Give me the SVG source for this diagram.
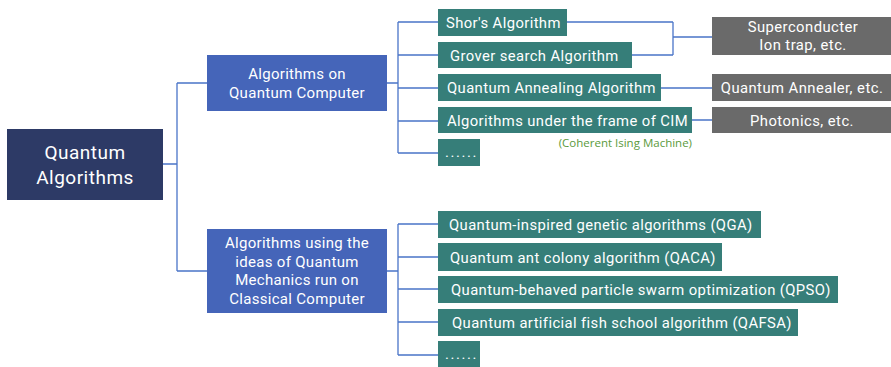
<svg xmlns="http://www.w3.org/2000/svg" width="891" height="367" viewBox="0 0 891 367">
  <style>
    .root { fill: #2d3a66; }
    .mid { fill: #4565b9; }
    .leaf { fill: #367e79; }
    .hw { fill: #6a6a6a; }
    text { font-family: Roboto, "Liberation Sans", sans-serif; fill: #ffffff; }
    .t-root { font-size: 19px; text-anchor: middle; letter-spacing: 0.5px; }
    .t-mid { font-size: 15px; text-anchor: middle; letter-spacing: 0.3px; }
    .t-leaf { font-size: 14.8px; letter-spacing: 0.4px; }
    .dots { font-size: 14.8px; letter-spacing: 1.6px; }
    .t-hw { font-size: 14.8px; text-anchor: middle; letter-spacing: 0.45px; }
    .note { font-family: "Open Sans", "Noto Sans", sans-serif; font-size: 11.5px; fill: #5a9a3c; text-anchor: end; }
    .wire { fill: none; stroke: #4a74c8; stroke-width: 1.3; }
  </style>

  <!-- connectors -->
  <g id="connectors" class="wire">
    <path d="M163 164 H177 M177 83 V271 M177 83 H207 M177 271 H207"/>
    <path d="M387 83 H398 M398 22 V153 M398 22 H438 M398 55 H438 M398 88 H438 M398 121 H438 M398 153 H438"/>
    <path d="M387 271 H398 M398 224 V355 M398 224 H438 M398 257 H438 M398 289 H438 M398 322 H438 M398 355 H438"/>
    <path d="M567 22 H673 M632 55 H673 M673 22 V55 M673 37 H712"/>
    <path d="M661 88 H712 M692 120 H712"/>
  </g>

  <!-- root -->
  <g id="root">
    <rect class="root" x="7" y="129" width="156" height="71"/>
    <text class="t-root" x="85" y="159">Quantum</text>
    <text class="t-root" x="85" y="184">Algorithms</text>
  </g>

  <!-- second level -->
  <g id="on-quantum">
    <rect class="mid" x="207" y="55" width="180" height="56"/>
    <text class="t-mid" x="297" y="79">Algorithms on</text>
    <text class="t-mid" x="297" y="98">Quantum Computer</text>
  </g>
  <g id="on-classical">
    <rect class="mid" x="207" y="229" width="180" height="84"/>
    <text class="t-mid" x="297" y="248">Algorithms using the</text>
    <text class="t-mid" x="297" y="267">ideas of Quantum</text>
    <text class="t-mid" x="297" y="285">Mechanics run on</text>
    <text class="t-mid" x="297" y="304">Classical Computer</text>
  </g>

  <!-- quantum computer algorithms -->
  <g id="shor">
    <rect class="leaf" x="438" y="9" width="129" height="27"/>
    <text class="t-leaf" x="446" y="28">Shor's Algorithm</text>
  </g>
  <g id="grover">
    <rect class="leaf" x="438" y="42" width="194" height="26"/>
    <text class="t-leaf" x="450" y="60.5">Grover search Algorithm</text>
  </g>
  <g id="annealing">
    <rect class="leaf" x="438" y="74" width="223" height="27"/>
    <text class="t-leaf" x="447" y="93">Quantum Annealing Algorithm</text>
  </g>
  <g id="cim">
    <rect class="leaf" x="438" y="107" width="254" height="26"/>
    <text class="t-leaf" x="447" y="125.5">Algorithms under the frame of CIM</text>
    <text class="note" x="692" y="147">(Coherent Ising Machine)</text>
  </g>
  <g id="more-quantum">
    <rect class="leaf" x="438" y="139" width="42" height="27"/>
    <text class="dots" x="445" y="157">......</text>
  </g>

  <!-- hardware -->
  <g id="superconducter">
    <rect class="hw" x="712" y="17" width="180" height="38"/>
    <text class="t-hw" x="803" y="32">Superconducter</text>
    <text class="t-hw" x="803" y="50">Ion trap, etc.</text>
  </g>
  <g id="annealer">
    <rect class="hw" x="712" y="74" width="180" height="27"/>
    <text class="t-hw" x="802" y="93">Quantum Annealer, etc.</text>
  </g>
  <g id="photonics">
    <rect class="hw" x="712" y="107" width="180" height="26"/>
    <text class="t-hw" x="802" y="125.5">Photonics, etc.</text>
  </g>

  <!-- quantum-inspired classical algorithms -->
  <g id="qga">
    <rect class="leaf" x="438" y="211" width="323" height="27"/>
    <text class="t-leaf" x="449" y="230">Quantum-inspired genetic algorithms (QGA)</text>
  </g>
  <g id="qaca">
    <rect class="leaf" x="438" y="243" width="284" height="28"/>
    <text class="t-leaf" x="450" y="262.5">Quantum ant colony algorithm (QACA)</text>
  </g>
  <g id="qpso">
    <rect class="leaf" x="438" y="276" width="400" height="27"/>
    <text class="t-leaf" x="451" y="295">Quantum-behaved particle swarm optimization (QPSO)</text>
  </g>
  <g id="qafsa">
    <rect class="leaf" x="438" y="309" width="360" height="27"/>
    <text class="t-leaf" x="452" y="328">Quantum artificial fish school algorithm (QAFSA)</text>
  </g>
  <g id="more-classical">
    <rect class="leaf" x="438" y="341" width="42" height="26"/>
    <text class="dots" x="445" y="359">......</text>
  </g>
</svg>
